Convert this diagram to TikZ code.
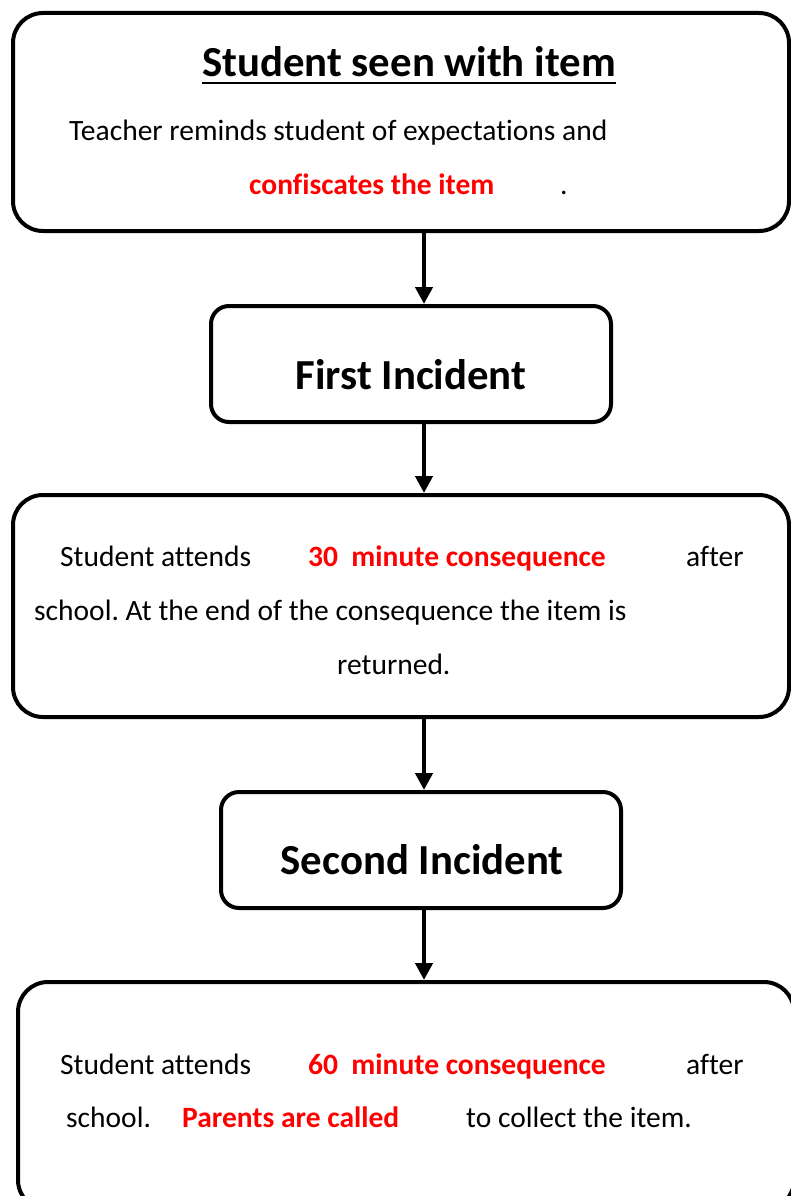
\documentclass[tikz,border=0pt]{standalone}
\usepackage{fontspec}
\setmainfont{Carlito}[Ligatures=NoCommon]
\usepackage{xcolor}
\usepackage{tikz}
\usetikzlibrary{arrows.meta}

\frenchspacing
\definecolor{alertred}{RGB}{255,0,0}
\newcommand{\bodyfont}{\fontsize{29.5}{34}\selectfont}
\newcommand{\headfont}{\fontsize{42.8}{48}\selectfont\bfseries}

\tikzset{
  bigbox/.style={draw, line width=4pt, rounded corners=30pt, inner sep=0pt},
  smallbox/.style={draw, line width=4pt, rounded corners=18pt, inner sep=0pt},
  words/.style={anchor=base west, inner sep=0pt, font=\bodyfont},
  redwords/.style={words, text=alertred, font=\bodyfont\bfseries},
  heading/.style={anchor=base, inner sep=0pt, font=\headfont},
  flowarrow/.style={line width=4.5pt, -{Triangle[length=17pt,width=17pt]}}
}

\begin{document}
\begin{tikzpicture}[x=1pt, y=-1pt]
         \useasboundingbox (0, 0) rectangle (790, 1196);
         % boxes
         \node [bigbox, minimum width=776, minimum height=218] (seen) at (401, 122) {};
         \node [smallbox, minimum width=400, minimum height=116] (first) at (411, 364) {};
         \node [bigbox, minimum width=776, minimum height=222] (firstcons) at (401, 606) {};
         \node [smallbox, minimum width=400, minimum height=116] (second) at (421, 850) {};
         \node [bigbox, minimum width=776, minimum height=228] (secondcons) at (406, 1096) {};
         % arrows
         \coordinate (ax) at (424, 0);
         \draw [flowarrow] (seen.south -| ax) -- (first.north -| ax);
         \draw [flowarrow] (first.south -| ax) -- (firstcons.north -| ax);
         \draw [flowarrow] (firstcons.south -| ax) -- (second.north -| ax);
         \draw [flowarrow] (second.south -| ax) -- (secondcons.north -| ax);
         % texts
         \node [heading] (seentitle) at (409, 77) {Student seen with item};
         \draw [line width=2.8pt] ([yshift=-6pt]seentitle.base west) -- ([yshift=-6pt]seentitle.base east);
         \node [words] (remind) at (69, 141) {Teacher reminds student of expectations and};
         \node [redwords] (confiscate) at (249, 194) {confiscates the item};
         \node [words] (stop) at (560, 194) {.};
         \node [heading] (firsttitle) at (411, 389) {First Incident};
         \node [words] (attendsa) at (60, 566) {Student attends};
         \node [redwords] (thirty) at (308, 566) {30\ \ minute consequence};
         \node [words] (aftera) at (686, 566) {after};
         \node [words] (endline) at (34, 620) {school. At the end of the consequence the item is};
         \node [words] (returned) at (337, 674) {returned.};
         \node [heading] (secondtitle) at (422, 874) {Second Incident};
         \node [words] (attendsb) at (60, 1074) {Student attends};
         \node [redwords] (sixty) at (308, 1074) {60\ \ minute consequence};
         \node [words] (afterb) at (686, 1074) {after};
         \node [words] (school) at (66, 1127) {school.};
         \node [redwords] (parents) at (182, 1127) {Parents are called};
         \node [words] (collect) at (466, 1127) {to collect the item.};
        \end{tikzpicture}
\end{document}
